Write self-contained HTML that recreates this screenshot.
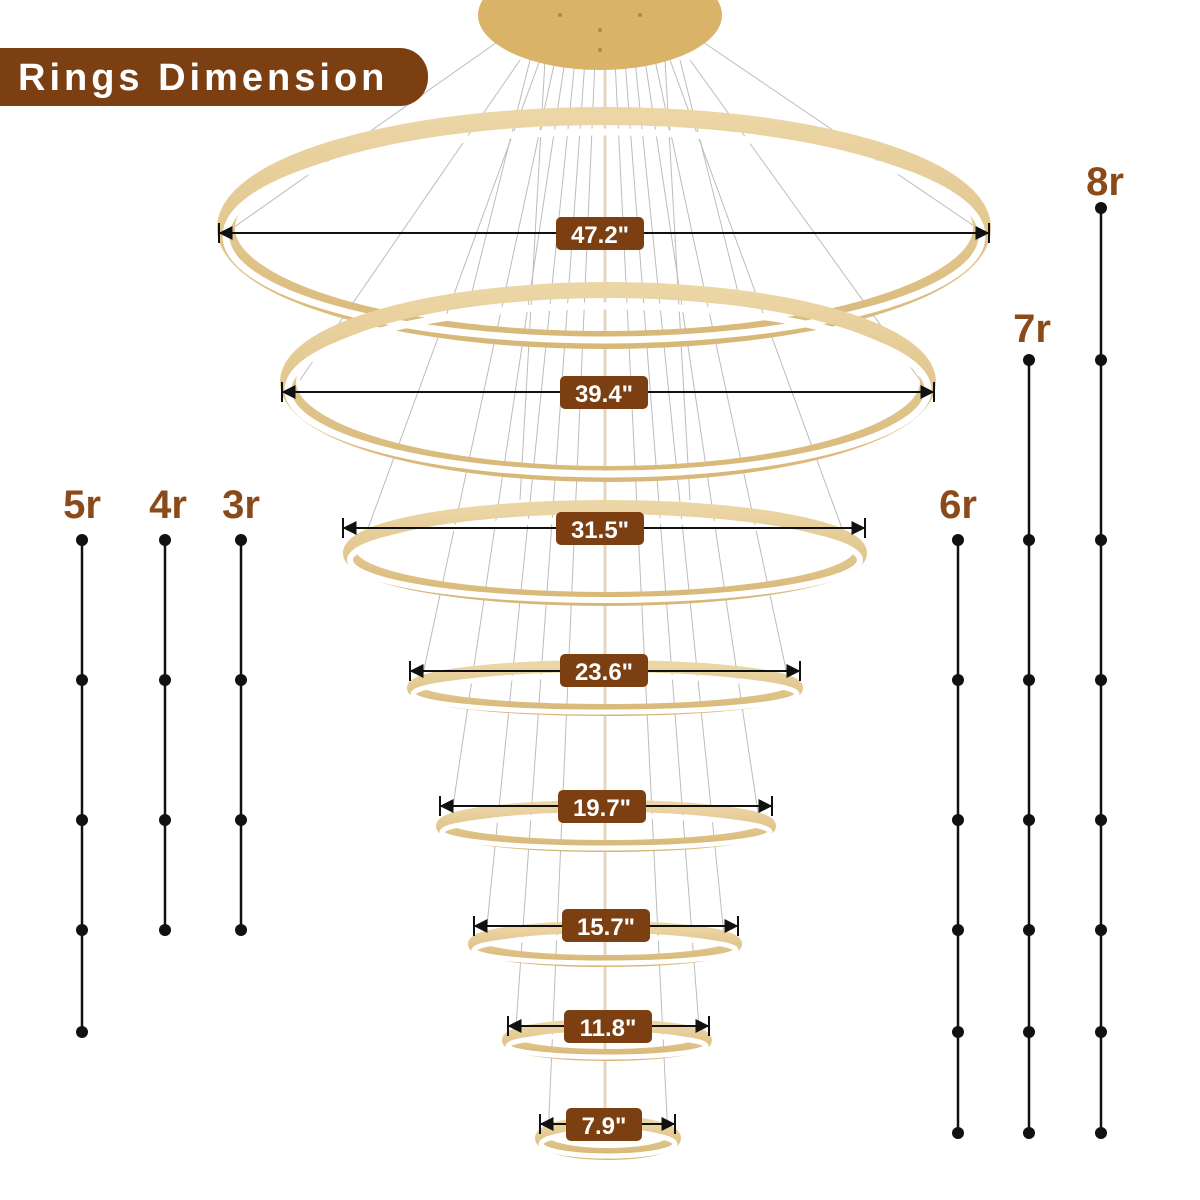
<!DOCTYPE html>
<html><head><meta charset="utf-8"><style>
html,body{margin:0;padding:0;background:#fff;}
svg{display:block;}
.t{font-family:"Liberation Sans",sans-serif;font-weight:bold;}
</style></head><body>
<svg width="1200" height="1200" viewBox="0 0 1200 1200" xmlns="http://www.w3.org/2000/svg">
<defs>
<marker id="a" viewBox="0 0 10 10" refX="9" refY="5" markerWidth="7" markerHeight="7" orient="auto-start-reverse"><path d="M0,0 L10,5 L0,10 z" fill="#111"/></marker>
<linearGradient id="g" x1="0" y1="0" x2="0" y2="1"><stop offset="0" stop-color="#ecd6a6"/><stop offset="1" stop-color="#d8b878"/></linearGradient>
</defs>
<rect width="1200" height="1200" fill="#fff"/>
<g stroke="#bcbcbc" stroke-width="1" fill="none">
<line x1="500" y1="40" x2="230" y2="230"/><line x1="700" y1="40" x2="980" y2="230"/>
<line x1="520" y1="60" x2="300" y2="380"/><line x1="690" y1="60" x2="920" y2="380"/>
<line x1="540" y1="60" x2="360" y2="550"/><line x1="670" y1="60" x2="850" y2="550"/>
<line x1="555" y1="60" x2="420" y2="688"/><line x1="655" y1="60" x2="790" y2="688"/>
<line x1="565" y1="60" x2="450" y2="826"/><line x1="645" y1="60" x2="760" y2="826"/>
<line x1="575" y1="60" x2="485" y2="945"/><line x1="635" y1="60" x2="725" y2="945"/>
<line x1="585" y1="60" x2="515" y2="1040"/><line x1="625" y1="60" x2="700" y2="1040"/>
<line x1="595" y1="60" x2="548" y2="1138"/><line x1="615" y1="60" x2="668" y2="1138"/>
<line x1="530" y1="60" x2="470" y2="300"/><line x1="680" y1="60" x2="740" y2="300"/>
<line x1="545" y1="60" x2="520" y2="500"/><line x1="665" y1="60" x2="690" y2="500"/>
<line x1="605" y1="60" x2="605" y2="1110" stroke="#e6d6c0" stroke-width="3"/>
</g>
<ellipse cx="600" cy="15" rx="122" ry="55" fill="#d9b468"/>
<g fill="#b08840"><circle cx="560" cy="15" r="2"/><circle cx="600" cy="30" r="2"/><circle cx="640" cy="15" r="2"/><circle cx="600" cy="50" r="2"/></g>
<g fill="none">
<g><ellipse cx="604" cy="228" rx="378" ry="112" stroke="url(#g)" stroke-width="18"/><ellipse cx="604" cy="236" rx="378" ry="104" stroke="#fff" stroke-width="7"/></g>
<g><ellipse cx="608" cy="382" rx="320" ry="92" stroke="url(#g)" stroke-width="16"/><ellipse cx="608" cy="390" rx="320" ry="84" stroke="#fff" stroke-width="7"/></g>
<g><ellipse cx="605" cy="553" rx="255" ry="46" stroke="url(#g)" stroke-width="14"/><ellipse cx="605" cy="560" rx="255" ry="40" stroke="#fff" stroke-width="6"/></g>
<g><ellipse cx="605" cy="688" rx="192" ry="22" stroke="url(#g)" stroke-width="12"/><ellipse cx="605" cy="694" rx="192" ry="18" stroke="#fff" stroke-width="5"/></g>
<g><ellipse cx="606" cy="826" rx="164" ry="20" stroke="url(#g)" stroke-width="12"/><ellipse cx="606" cy="832" rx="164" ry="16" stroke="#fff" stroke-width="5"/></g>
<g><ellipse cx="605" cy="944" rx="131" ry="17" stroke="url(#g)" stroke-width="12"/><ellipse cx="605" cy="950" rx="131" ry="13" stroke="#fff" stroke-width="5"/></g>
<g><ellipse cx="607" cy="1040" rx="99" ry="15" stroke="url(#g)" stroke-width="12"/><ellipse cx="607" cy="1046" rx="99" ry="11" stroke="#fff" stroke-width="5"/></g>
<g><ellipse cx="608" cy="1138" rx="67" ry="16" stroke="url(#g)" stroke-width="12"/><ellipse cx="608" cy="1144" rx="67" ry="12" stroke="#fff" stroke-width="5"/></g>
</g>
<g stroke="#111" stroke-width="2">
<line x1="220" y1="233" x2="988" y2="233" marker-start="url(#a)" marker-end="url(#a)"/><line x1="219" y1="223" x2="219" y2="243"/><line x1="989" y1="223" x2="989" y2="243"/>
<line x1="283" y1="392" x2="933" y2="392" marker-start="url(#a)" marker-end="url(#a)"/><line x1="282" y1="382" x2="282" y2="402"/><line x1="934" y1="382" x2="934" y2="402"/>
<line x1="344" y1="528" x2="864" y2="528" marker-start="url(#a)" marker-end="url(#a)"/><line x1="343" y1="518" x2="343" y2="538"/><line x1="865" y1="518" x2="865" y2="538"/>
<line x1="411" y1="671" x2="799" y2="671" marker-start="url(#a)" marker-end="url(#a)"/><line x1="410" y1="661" x2="410" y2="681"/><line x1="800" y1="661" x2="800" y2="681"/>
<line x1="441" y1="806" x2="771" y2="806" marker-start="url(#a)" marker-end="url(#a)"/><line x1="440" y1="796" x2="440" y2="816"/><line x1="772" y1="796" x2="772" y2="816"/>
<line x1="475" y1="926" x2="737" y2="926" marker-start="url(#a)" marker-end="url(#a)"/><line x1="474" y1="916" x2="474" y2="936"/><line x1="738" y1="916" x2="738" y2="936"/>
<line x1="509" y1="1026" x2="708" y2="1026" marker-start="url(#a)" marker-end="url(#a)"/><line x1="508" y1="1016" x2="508" y2="1036"/><line x1="709" y1="1016" x2="709" y2="1036"/>
<line x1="541" y1="1124" x2="674" y2="1124" marker-start="url(#a)" marker-end="url(#a)"/><line x1="540" y1="1114" x2="540" y2="1134"/><line x1="675" y1="1114" x2="675" y2="1134"/>
</g>
<g class="t" font-size="24" fill="#fff" text-anchor="middle">
<rect x="556" y="217" width="88" height="33" rx="5" fill="#7b3f12"/><text x="600" y="243">47.2"</text>
<rect x="560" y="376" width="88" height="33" rx="5" fill="#7b3f12"/><text x="604" y="402">39.4"</text>
<rect x="556" y="512" width="88" height="33" rx="5" fill="#7b3f12"/><text x="600" y="538">31.5"</text>
<rect x="560" y="654" width="88" height="33" rx="5" fill="#7b3f12"/><text x="604" y="680">23.6"</text>
<rect x="558" y="790" width="88" height="33" rx="5" fill="#7b3f12"/><text x="602" y="816">19.7"</text>
<rect x="562" y="909" width="88" height="33" rx="5" fill="#7b3f12"/><text x="606" y="935">15.7"</text>
<rect x="564" y="1010" width="88" height="33" rx="5" fill="#7b3f12"/><text x="608" y="1036">11.8"</text>
<rect x="566" y="1108" width="76" height="33" rx="5" fill="#7b3f12"/><text x="604" y="1134">7.9"</text>
</g>
<path d="M0,48 H400 A28,28 0 0 1 428,76 V78 A28,28 0 0 1 400,106 H0 Z" fill="#7b3f12"/>
<text class="t" x="18" y="90" font-size="38" fill="#fff" letter-spacing="4">Rings Dimension</text>
<g stroke="#111" stroke-width="2.5">
<line x1="82" y1="540" x2="82" y2="1032"/><line x1="165" y1="540" x2="165" y2="930"/><line x1="241" y1="540" x2="241" y2="930"/>
<line x1="958" y1="540" x2="958" y2="1133"/><line x1="1029" y1="360" x2="1029" y2="1133"/><line x1="1101" y1="208" x2="1101" y2="1133"/>
</g>
<g fill="#111">
<circle cx="82" cy="540" r="6"/><circle cx="82" cy="680" r="6"/><circle cx="82" cy="820" r="6"/><circle cx="82" cy="930" r="6"/><circle cx="82" cy="1032" r="6"/>
<circle cx="165" cy="540" r="6"/><circle cx="165" cy="680" r="6"/><circle cx="165" cy="820" r="6"/><circle cx="165" cy="930" r="6"/>
<circle cx="241" cy="540" r="6"/><circle cx="241" cy="680" r="6"/><circle cx="241" cy="820" r="6"/><circle cx="241" cy="930" r="6"/>
<circle cx="958" cy="540" r="6"/><circle cx="958" cy="680" r="6"/><circle cx="958" cy="820" r="6"/><circle cx="958" cy="930" r="6"/><circle cx="958" cy="1032" r="6"/><circle cx="958" cy="1133" r="6"/>
<circle cx="1029" cy="360" r="6"/><circle cx="1029" cy="540" r="6"/><circle cx="1029" cy="680" r="6"/><circle cx="1029" cy="820" r="6"/><circle cx="1029" cy="930" r="6"/><circle cx="1029" cy="1032" r="6"/><circle cx="1029" cy="1133" r="6"/>
<circle cx="1101" cy="208" r="6"/><circle cx="1101" cy="360" r="6"/><circle cx="1101" cy="540" r="6"/><circle cx="1101" cy="680" r="6"/><circle cx="1101" cy="820" r="6"/><circle cx="1101" cy="930" r="6"/><circle cx="1101" cy="1032" r="6"/><circle cx="1101" cy="1133" r="6"/>
</g>
<g class="t" font-size="40" fill="#8b4a1a" text-anchor="middle">
<text x="82" y="518">5r</text><text x="168" y="518">4r</text><text x="241" y="518">3r</text>
<text x="958" y="518">6r</text><text x="1032" y="342">7r</text><text x="1105" y="195">8r</text>
</g>
</svg>
</body></html>
